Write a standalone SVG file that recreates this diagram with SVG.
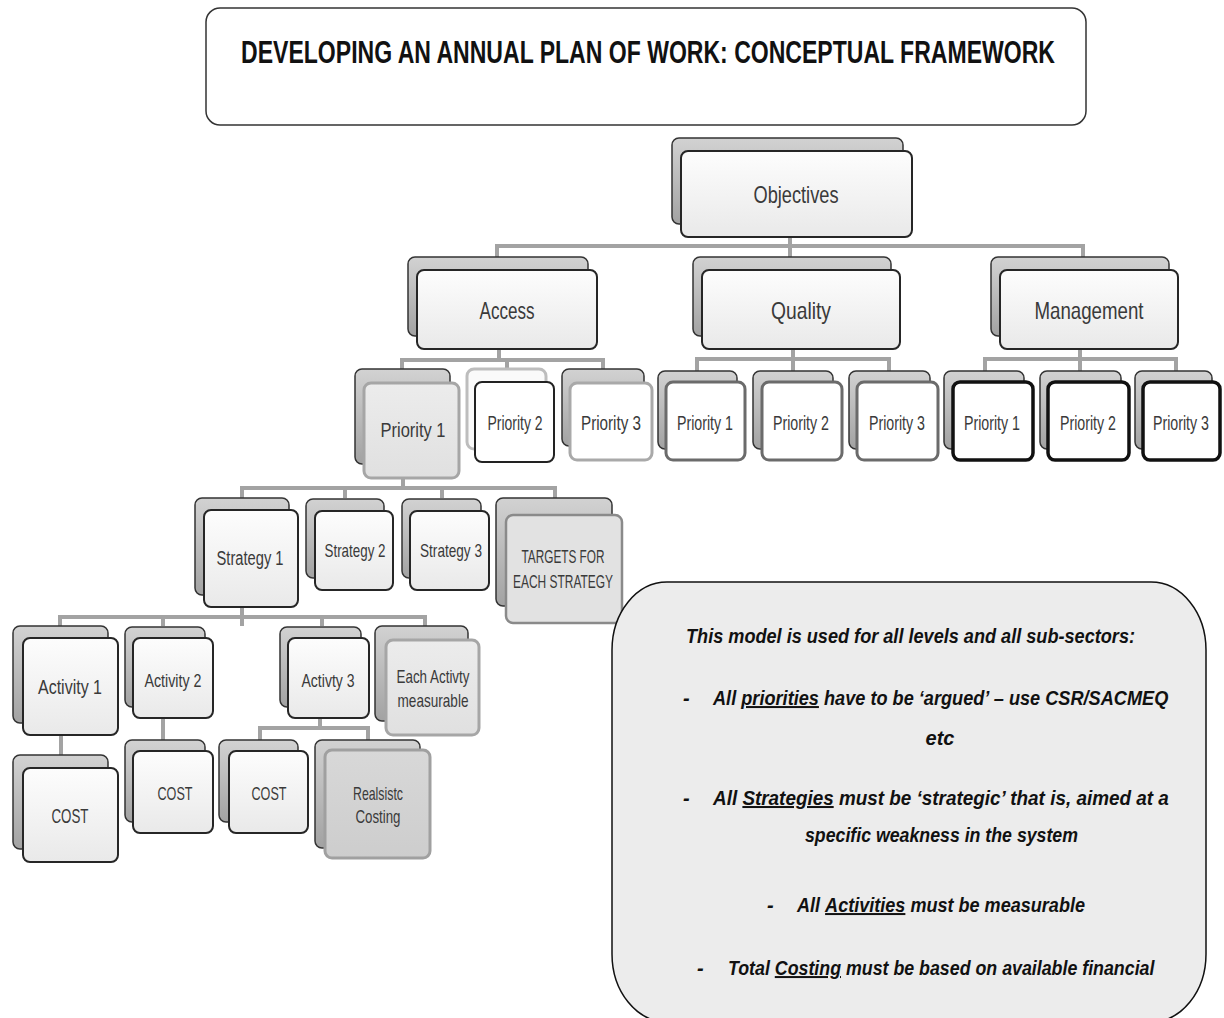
<svg xmlns="http://www.w3.org/2000/svg" width="1224" height="1018" viewBox="0 0 1224 1018">
<defs>
<linearGradient id="gBack" x1="0" y1="0" x2="0" y2="1"><stop offset="0" stop-color="#d2d2d2"/><stop offset="1" stop-color="#a2a2a2"/></linearGradient>
<linearGradient id="gFront" x1="0" y1="0" x2="0" y2="1"><stop offset="0" stop-color="#fdfdfd"/><stop offset="1" stop-color="#e9e9e9"/></linearGradient>
<linearGradient id="gGray" x1="0" y1="0" x2="0" y2="1"><stop offset="0" stop-color="#ececec"/><stop offset="1" stop-color="#e0e0e0"/></linearGradient>
<linearGradient id="gDark" x1="0" y1="0" x2="0" y2="1"><stop offset="0" stop-color="#d8d8d8"/><stop offset="1" stop-color="#cdcdcd"/></linearGradient>
</defs>
<style>
.bk{fill:url(#gBack);stroke:#333;stroke-width:1.5}
.bkl{fill:#fafafa;stroke:#bdbdbd;stroke-width:3}
.fr{fill:url(#gFront);stroke:#262626;stroke-width:2}
.frw{fill:#fff;stroke:#222;stroke-width:2}
.frl{fill:#fff;stroke:#a9a9a9;stroke-width:3}
.frq{fill:#fff;stroke:#6b6b6b;stroke-width:3}
.frm{fill:#fff;stroke:#111;stroke-width:3.5}
.frg{fill:url(#gGray);stroke:#a6a6a6;stroke-width:3}
.frt{fill:#e2e2e2;stroke:#8a8a8a;stroke-width:2.5}
.frd{fill:url(#gDark);stroke:#a0a0a0;stroke-width:3}
.lb{font-family:"Liberation Sans",Arial,sans-serif;fill:#3a3a3a;text-anchor:middle}
.l24{font-size:24px}.l20{font-size:20px}.l19{font-size:19px}
.cn{fill:none;stroke:#a3a3a3;stroke-width:4}
.note{font-family:"Liberation Sans",Arial,sans-serif;font-size:20px;font-weight:bold;font-style:italic;fill:#111}
.u{text-decoration:underline}
</style>
<rect width="1224" height="1018" fill="#fff"/>
<g id="title">
<rect x="206" y="8" width="880" height="117" rx="14" fill="#fff" stroke="#333" stroke-width="1.5"/>
<text transform="translate(648 63) scale(0.72 1)" x="0" y="0" font-family="Liberation Sans,Arial,sans-serif" font-size="32" font-weight="bold" fill="#111" text-anchor="middle">DEVELOPING AN ANNUAL PLAN OF WORK: CONCEPTUAL FRAMEWORK</text>
</g>
<g id="connectors">
<path class="cn" d="M790 237V257M497 257V246H1083V257"/>
<path class="cn" d="M499 349V360M402 369V360H603V369M507 360V369"/>
<path class="cn" d="M793 349V371M697 371V359H889V371"/>
<path class="cn" d="M1080 349V371M985 371V359H1176V371"/>
<path class="cn" d="M403 478V488M242 498V488H555V498M345 488V498M442 488V498"/>
<path class="cn" d="M242 607V626M60 626V617H425V626M163 617V626M322 617V626"/>
<path class="cn" d="M61 735V755"/>
<path class="cn" d="M163 718V740"/>
<path class="cn" d="M320 718V728M260 740V728H368V740"/>
</g>
<g id="n-objectives"><rect class="bk" x="672" y="138" width="231" height="86" rx="7"/><rect class="fr" x="681" y="151" width="231" height="86" rx="7"/><text class="lb l24" x="796" y="203" textLength="85" lengthAdjust="spacingAndGlyphs">Objectives</text></g>
<g id="n-access"><rect class="bk" x="408" y="257" width="180" height="79" rx="7"/><rect class="fr" x="417" y="270" width="180" height="79" rx="7"/><text class="lb l24" x="507" y="319" textLength="55" lengthAdjust="spacingAndGlyphs">Access</text></g>
<g id="n-quality"><rect class="bk" x="693" y="257" width="198" height="79" rx="7"/><rect class="fr" x="702" y="270" width="198" height="79" rx="7"/><text class="lb l24" x="801" y="319" textLength="60" lengthAdjust="spacingAndGlyphs">Quality</text></g>
<g id="n-management"><rect class="bk" x="991" y="257" width="178" height="79" rx="7"/><rect class="fr" x="1000" y="270" width="178" height="79" rx="7"/><text class="lb l24" x="1089" y="319" textLength="109" lengthAdjust="spacingAndGlyphs">Management</text></g>
<g id="n-a-p1"><rect class="bk" x="355" y="369" width="95" height="95" rx="7"/><rect class="frg" x="364" y="383" width="95" height="95" rx="7"/><text class="lb l20" x="413" y="437" textLength="65" lengthAdjust="spacingAndGlyphs">Priority  1</text></g>
<g id="n-a-p2"><rect class="bkl" x="467" y="369" width="79" height="80" rx="7"/><rect class="frw" x="475" y="382" width="79" height="80" rx="7"/><text class="lb l20" x="515" y="430" textLength="55" lengthAdjust="spacingAndGlyphs">Priority 2</text></g>
<g id="n-a-p3"><rect class="bk" x="562" y="369" width="82" height="77" rx="7"/><rect class="frl" x="570" y="383" width="82" height="77" rx="7"/><text class="lb l20" x="611" y="430" textLength="60" lengthAdjust="spacingAndGlyphs">Priority  3</text></g>
<g id="n-q-p1"><rect class="bk" x="658" y="371" width="79" height="78" rx="7"/><rect class="frq" x="666" y="382" width="79" height="78" rx="7"/><text class="lb l20" x="705" y="430" textLength="56" lengthAdjust="spacingAndGlyphs">Priority 1</text></g>
<g id="n-q-p2"><rect class="bk" x="753" y="371" width="80" height="78" rx="7"/><rect class="frq" x="762" y="382" width="80" height="78" rx="7"/><text class="lb l20" x="801" y="430" textLength="56" lengthAdjust="spacingAndGlyphs">Priority 2</text></g>
<g id="n-q-p3"><rect class="bk" x="849" y="371" width="81" height="78" rx="7"/><rect class="frq" x="857" y="382" width="81" height="78" rx="7"/><text class="lb l20" x="897" y="430" textLength="56" lengthAdjust="spacingAndGlyphs">Priority 3</text></g>
<g id="n-m-p1"><rect class="bk" x="944" y="371" width="80" height="78" rx="7"/><rect class="frm" x="953" y="382" width="80" height="78" rx="7"/><text class="lb l20" x="992" y="430" textLength="56" lengthAdjust="spacingAndGlyphs">Priority 1</text></g>
<g id="n-m-p2"><rect class="bk" x="1040" y="371" width="81" height="78" rx="7"/><rect class="frm" x="1048" y="382" width="81" height="78" rx="7"/><text class="lb l20" x="1088" y="430" textLength="56" lengthAdjust="spacingAndGlyphs">Priority 2</text></g>
<g id="n-m-p3"><rect class="bk" x="1135" y="371" width="77" height="78" rx="7"/><rect class="frm" x="1143" y="382" width="77" height="78" rx="7"/><text class="lb l20" transform="translate(1181 430) scale(0.71 1)" x="0" y="0">Priority 3</text></g>
<g id="n-s1"><rect class="bk" x="195" y="498" width="94" height="97" rx="7"/><rect class="fr" x="204" y="510" width="94" height="97" rx="7"/><text class="lb l20" x="250" y="565" textLength="67" lengthAdjust="spacingAndGlyphs">Strategy 1</text></g>
<g id="n-s2"><rect class="bk" x="306" y="499" width="78" height="79" rx="7"/><rect class="fr" x="315" y="511" width="78" height="79" rx="7"/><text class="lb l19" x="355" y="557" textLength="61" lengthAdjust="spacingAndGlyphs">Strategy 2</text></g>
<g id="n-s3"><rect class="bk" x="402" y="499" width="79" height="79" rx="7"/><rect class="fr" x="410" y="511" width="79" height="79" rx="7"/><text class="lb l19" x="451" y="557" textLength="62" lengthAdjust="spacingAndGlyphs">Strategy 3</text></g>
<g id="n-targets"><rect class="bk" x="496" y="498" width="116" height="108" rx="7"/><rect class="frt" x="506" y="515" width="116" height="108" rx="7"/><text class="lb l19" x="563" y="563" textLength="83" lengthAdjust="spacingAndGlyphs">TARGETS FOR</text><text class="lb l19" x="563" y="588" textLength="100" lengthAdjust="spacingAndGlyphs">EACH STRATEGY</text></g>
<g id="n-act1"><rect class="bk" x="13" y="626" width="95" height="97" rx="7"/><rect class="fr" x="23" y="638" width="95" height="97" rx="7"/><text class="lb l20" x="70" y="694" textLength="64" lengthAdjust="spacingAndGlyphs">Activity 1</text></g>
<g id="n-act2"><rect class="bk" x="125" y="627" width="80" height="80" rx="7"/><rect class="fr" x="133" y="638" width="80" height="80" rx="7"/><text class="lb l19" x="173" y="687" textLength="57" lengthAdjust="spacingAndGlyphs">Activity 2</text></g>
<g id="n-act3"><rect class="bk" x="280" y="627" width="81" height="80" rx="7"/><rect class="fr" x="288" y="638" width="81" height="80" rx="7"/><text class="lb l19" x="328" y="687" textLength="53" lengthAdjust="spacingAndGlyphs">Activty 3</text></g>
<g id="n-measurable"><rect class="bk" x="375" y="626" width="93" height="95" rx="7"/><rect class="frg" x="386" y="640" width="93" height="95" rx="7"/><text class="lb l19" x="433" y="683" textLength="73" lengthAdjust="spacingAndGlyphs">Each Activty</text><text class="lb l19" x="433" y="707" textLength="71" lengthAdjust="spacingAndGlyphs">measurable</text></g>
<g id="n-cost1"><rect class="bk" x="13" y="755" width="95" height="94" rx="7"/><rect class="fr" x="23" y="768" width="95" height="94" rx="7"/><text class="lb l20" x="70" y="823" textLength="37" lengthAdjust="spacingAndGlyphs">COST</text></g>
<g id="n-cost2"><rect class="bk" x="125" y="740" width="80" height="82" rx="7"/><rect class="fr" x="133" y="751" width="80" height="82" rx="7"/><text class="lb l19" x="175" y="800" textLength="35" lengthAdjust="spacingAndGlyphs">COST</text></g>
<g id="n-cost3"><rect class="bk" x="219" y="740" width="79" height="82" rx="7"/><rect class="fr" x="229" y="751" width="79" height="82" rx="7"/><text class="lb l19" x="269" y="800" textLength="35" lengthAdjust="spacingAndGlyphs">COST</text></g>
<g id="n-costing"><rect class="bk" x="315" y="740" width="105" height="108" rx="7"/><rect class="frd" x="325" y="750" width="105" height="108" rx="7"/><text class="lb l19" x="378" y="800" textLength="50" lengthAdjust="spacingAndGlyphs">Realsistc</text><text class="lb l19" x="378" y="823" textLength="45" lengthAdjust="spacingAndGlyphs">Costing</text></g>
<g id="note">
<rect x="612" y="582" width="594" height="440" rx="55" ry="68" fill="#ececec" stroke="#111" stroke-width="1.5"/>
<text class="note" x="686" y="643" textLength="449" lengthAdjust="spacingAndGlyphs">This model is used for all levels and all sub-sectors:</text>
<text class="note" x="683" y="705">-</text>
<text class="note" transform="translate(713 705) scale(0.908 1)" x="0" y="0">All <tspan class="u">priorities</tspan> have to be ‘argued’ – use CSR/SACMEQ</text>
<text class="note" x="940" y="745" text-anchor="middle">etc</text>
<text class="note" x="683" y="805">-</text>
<text class="note" transform="translate(713 805) scale(0.945 1)" x="0" y="0">All <tspan class="u">Strategies</tspan> must be ‘strategic’ that is, aimed at a</text>
<text class="note" x="805" y="842" textLength="273" lengthAdjust="spacingAndGlyphs">specific weakness in the system</text>
<text class="note" x="767" y="912">-</text>
<text class="note" transform="translate(797 912) scale(0.903 1)" x="0" y="0">All <tspan class="u">Activities</tspan> must be measurable</text>
<text class="note" x="697" y="975">-</text>
<text class="note" transform="translate(728 975) scale(0.89 1)" x="0" y="0">Total <tspan class="u">Costing</tspan> must be based on available financial</text>
</g>
</svg>
